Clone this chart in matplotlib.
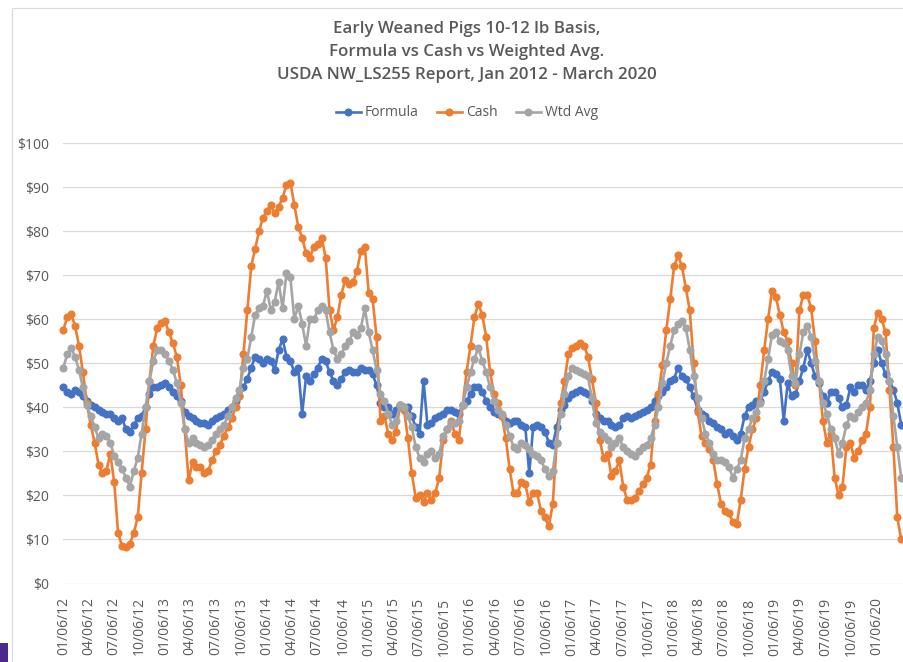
"""Early weaned pigs 10-12 lb basis: formula vs cash vs weighted avg (NW_LS255)."""

import matplotlib

matplotlib.use("Agg")
import matplotlib.dates as mdates
import matplotlib.pyplot as plt
import pandas as pd
from matplotlib.patches import Rectangle
from matplotlib.ticker import FuncFormatter, MultipleLocator

# $/head, read roughly every two weeks off the report chart
formula = [
    44.5, 43.5, 43, 44, 43.5, 42.5, 41.5, 40.5, 40, 39.5, 39, 38.5, 38.5, 37.5, 37, 37.5,
    35, 34.5, 36, 37.5, 38, 40, 43, 44.5, 44.5, 45, 45.5, 44.5, 43.5, 42.5, 41.5, 39,
    38, 37.5, 37, 36.5, 36.5, 36, 37, 37.5, 38, 38.5, 39.5, 40, 41.5, 42.5, 44.5, 46.5,
    49, 51.5, 51, 50, 51, 50.5, 48.5, 53, 55.5, 51.5, 50.5, 48,
    49, 38.5, 47, 46, 47.5, 49, 51, 50.5, 48, 46, 45, 46.5, 48, 48.5, 48, 48,
    49, 48.5, 48.5, 47.5, 45, 41, 40, 40, 38.5, 39.5, 40.5, 40,
    40, 38, 35.5, 34, 46, 36, 36.5, 37.5, 38, 38.5, 39.5, 39.5, 39, 38.5, 40.5, 41.5,
    43, 44.5, 44.5, 43.5, 41.5, 40, 39, 38.5, 38, 37, 36.5, 37,
    37, 36, 35.5, 25, 35.5, 36, 35.5, 34.5, 32, 31.5, 35.5, 39.5, 40.5, 42, 43, 43.5,
    44, 43.5, 43, 41.5, 38.5, 37.5, 37, 37, 36, 35.5, 36, 37.5,
    38, 37.5, 38, 38.5, 39, 39.5, 40, 41.5, 42.5, 43.5, 44.5, 46, 46.5, 49, 47, 46.5,
    44.5, 42.5, 39.5, 38.5, 38, 37, 36.5, 35.5, 35, 34, 34.5, 33.5,
    32.5, 34, 38, 40, 40.5, 41.5, 41.5, 43.5, 46, 48, 47.5, 46.5, 37, 45.5, 42.5, 43,
    46, 49, 53, 50, 47, 45.5, 42.5, 41, 43.5, 43.5, 42, 40,
    40.5, 44.5, 43.5, 45, 45, 44, 46, 50, 53, 50, 47.5, 46, 44, 41, 36,
]
cash = [
    57.5, 60.5, 61.2, 58.5, 54, 48, 41, 36, 32, 27, 25, 25.5, 29.5, 23, 11.5, 8.5,
    8.2, 9, 11.5, 15, 25, 35, 46, 54, 58, 59.2, 59.5, 57, 54.5, 51.5, 45, 35,
    23.5, 27.5, 26.5, 26.5, 25, 25.5, 28, 30, 31.5, 33.5, 35.5, 37.5, 40, 42.5, 52, 62,
    72, 76, 80, 83, 84.5, 86, 84, 85.5, 87.5, 90.5, 91, 86,
    81, 78.5, 75, 74, 76.5, 77, 78.5, 74, 62, 57.5, 60.5, 65.5, 69, 68, 68.5, 71,
    75.5, 76.5, 66, 64.5, 56, 37, 38, 34, 32.5, 34.5, 40.5, 39.5,
    33, 25, 19.5, 20, 18.5, 20.5, 19, 20.5, 24, 32.5, 35, 37, 34, 32.5, 40.5, 48,
    54, 60.5, 63.5, 61, 56, 48, 43, 41, 38, 33, 26, 20.5,
    20.5, 23, 22.5, 18.5, 20.5, 20.5, 16.5, 15, 13, 18, 32, 41, 46, 52, 53.5, 54,
    54.5, 54, 51.5, 46.5, 41, 32.5, 28.5, 29.5, 24.5, 25.5, 28, 22,
    19, 19, 19.5, 21, 22.5, 24, 27, 37, 43, 49.5, 57.5, 64.5, 72, 74.5, 72, 67,
    62, 50, 39, 33.5, 32, 30.5, 28, 22.5, 18, 16.5, 16, 14,
    13.5, 19, 26, 31, 35, 37.5, 45, 53, 60, 66.5, 65, 61, 57, 55, 50, 45,
    62, 65.5, 65.5, 62.5, 55, 46, 37, 32, 34, 24, 20, 22,
    31, 32, 28.5, 30, 32.5, 34, 40, 58, 61.5, 60, 57, 44, 31, 15, 10,
]
wtd_avg = [
    49, 52, 53.5, 51.5, 48.5, 44.5, 40.5, 38, 35.5, 33, 34, 33.5, 32, 29, 27.5, 26,
    24, 22, 25.5, 28.5, 34, 40, 46, 50.5, 53, 53, 52, 50.5, 48.5, 45.5, 41, 35,
    32, 33, 32, 31.5, 31, 31.5, 32.5, 34, 35, 36, 38, 40, 42, 44, 49, 51,
    56, 61, 62.5, 63, 66.5, 62, 64, 68.5, 62.5, 70.5, 69.5, 60,
    63, 59, 54, 60, 60, 62, 63, 62, 57, 53, 51, 52, 54, 55, 57, 56.5,
    58, 62.5, 57, 53, 48.5, 43, 41.5, 38.5, 36, 37, 40.5, 40,
    38, 35.5, 31, 28.5, 27.5, 29.5, 30, 28.5, 29.5, 33.5, 35, 36.5, 36.5, 37, 40.5, 44.5,
    48, 51, 53.5, 50.5, 48, 44.5, 41.5, 39.5, 38.5, 36, 33.5, 31,
    30.5, 32, 31.5, 30.5, 29.5, 29, 28, 26, 24.5, 25.5, 32, 38.5, 43, 47, 49, 48.5,
    48, 47.5, 47, 42, 36.5, 34.5, 33.5, 32.5, 31, 32, 33, 31,
    30, 29.5, 29, 30, 31, 31.5, 33, 36, 40, 45.5, 50, 54, 57.5, 59, 59.5, 58,
    53, 47, 42, 37.5, 34, 32, 29.5, 28, 28, 27.5, 26.5, 24,
    26, 28, 33, 35, 37.5, 39, 41, 46, 51, 56.5, 57, 55, 54.5, 53, 47, 45.5,
    52, 57, 58.5, 56, 50.5, 46, 41, 38.5, 35, 33, 29.5, 32,
    36, 38, 37.5, 39, 40, 41, 44, 52, 56, 55, 52, 46, 38, 31, 24,
]

FIRST_DATE = "2012-01-06"
LAST_DATE = "2020-04-03"
LAST_TICK = "2020-01-06"

TEXT = "#595959"
GRID = "#d9d9d9"
COLORS = {"Formula": "#4472c4", "Cash": "#ed7d31", "Wtd Avg": "#a5a5a5"}

plt.rcParams["font.family"] = ["Open Sans", "DejaVu Sans"]

W, H = 904, 662
fig = plt.figure(figsize=(W / 100, H / 100), dpi=100)

# chart-area border and the purple slide tab peeking in at bottom-left
fig.patches.append(
    Rectangle((12 / W, -0.05), 1.1, 1.05 - 8 / H, transform=fig.transFigure,
              fill=False, edgecolor=GRID, lw=0.8)
)
fig.patches.append(
    Rectangle((0, 0), 8 / W, 19 / H, transform=fig.transFigure,
              facecolor="#4b2a8c", edgecolor="none")
)

x0, x1 = 63.3, 904
y0, y1 = 583.5, 143
ax = fig.add_axes([x0 / W, 1 - y0 / H, (x1 - x0) / W, (y0 - y1) / H])

dates = pd.date_range(FIRST_DATE, LAST_DATE, periods=len(cash))
series = [("Formula", formula), ("Cash", cash), ("Wtd Avg", wtd_avg)]
for name, vals in series:
    ax.plot(dates, vals, color=COLORS[name], lw=1.9, marker="o", ms=4.8,
            mec=COLORS[name], label=name, clip_on=False, zorder=3)

start = pd.Timestamp(FIRST_DATE)
ax.set_xlim(start, start + pd.Timedelta(days=3020))
ax.set_ylim(0, 100)

# quarterly labels on the 6th, last one Jan 2020
ticks = pd.date_range("2012-01-01", LAST_TICK, freq="QS") + pd.Timedelta(days=5)
ax.set_xticks(ticks)
ax.xaxis.set_major_formatter(mdates.DateFormatter("%m/%d/%y"))
ax.yaxis.set_major_locator(MultipleLocator(10))
ax.yaxis.set_major_formatter(FuncFormatter(lambda v, _: f"${v:.0f}"))

ax.grid(axis="y", color=GRID, lw=0.9)
ax.set_axisbelow(True)
for s in ax.spines.values():
    s.set_visible(False)
ax.tick_params(axis="both", length=0, labelsize=10, colors=TEXT)
ax.tick_params(axis="y", pad=10)
ax.tick_params(axis="x", pad=10, labelrotation=90)

title = ("Early Weaned Pigs 10-12 lb Basis,\n"
         "Formula vs Cash vs Weighted Avg.\n"
         "USDA NW_LS255 Report, Jan 2012 - March 2020")
fig.text(467 / W, 1 - 52 / H, title, ha="center", va="center", fontsize=12.2,
         color=TEXT, fontweight="semibold", linespacing=1.55)

fig.legend(loc="center", bbox_to_anchor=(467 / W, 1 - 113 / H), ncol=3,
           frameon=False, fontsize=10, handlelength=1.8, handletextpad=0.3,
           columnspacing=1.3, labelcolor=TEXT)

fig.savefig("out.png", dpi=100)
